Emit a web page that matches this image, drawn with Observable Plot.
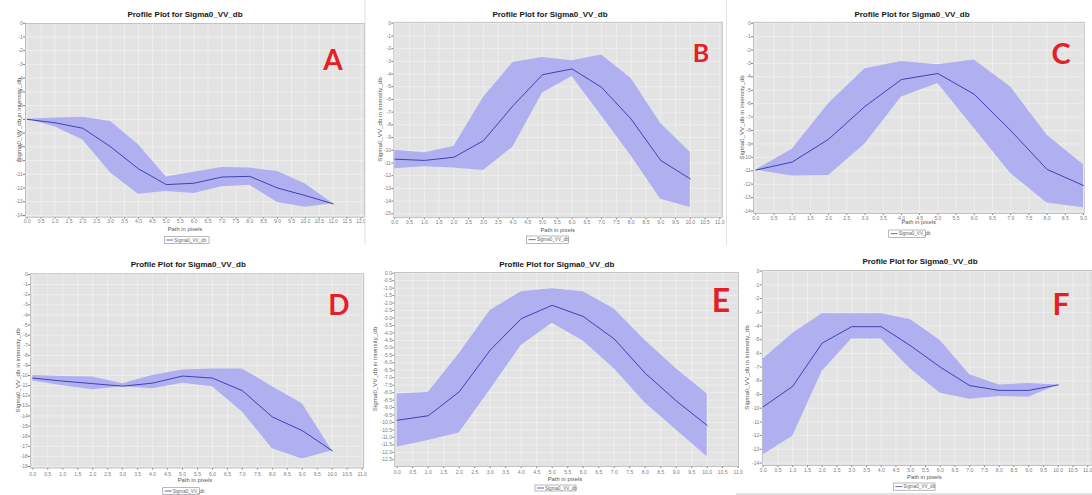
<!DOCTYPE html>
<html><head><meta charset="utf-8">
<script src="https://cdn.jsdelivr.net/npm/d3@7"></script>
<script src="https://cdn.jsdelivr.net/npm/@observablehq/plot@0.6"></script>
<style>
body{margin:0;background:#fff;}
#wrap{position:relative;width:1092px;height:495px;overflow:hidden;background:#fff;}
#wrap svg{position:absolute;}
</style></head><body><div id="wrap"></div>
<script>
// ---- text ----
const chartTitle = "Profile Plot for Sigma0_VV_db";
const xLabel = "Path in pixels";
const yLabel = "Sigma0_VV_db in intensity_db";
const legendLabel = "Sigma0_VV_db";

// ---- data (path position, mean, upper and lower envelope) ----
const aPath  = [0,1,2,3,4,5,6,7,8,9,10,11];
const aMean  = [-7.0,-7.25,-7.65,-9.0,-10.6,-11.75,-11.65,-11.2,-11.15,-12.0,-12.55,-13.15];
const aUpper = [-7.0,-6.9,-6.85,-7.15,-8.85,-11.2,-10.85,-10.5,-10.55,-10.8,-11.7,-13.15];
const aLower = [-7.0,-7.55,-8.5,-10.9,-12.45,-12.25,-12.4,-11.9,-11.8,-13.05,-13.4,-13.15];

const bPath  = [0,1,2,3,4,5,6,7,8,9,10];
const bMean  = [-10.7,-10.8,-10.55,-9.25,-6.5,-4.05,-3.6,-5.05,-7.55,-10.8,-12.25];
const bUpper = [-10.0,-10.2,-9.7,-5.85,-3.1,-2.7,-2.95,-2.5,-4.35,-7.9,-10.15];
const bLower = [-11.45,-11.3,-11.4,-11.6,-9.75,-5.5,-4.2,-7.3,-10.45,-13.85,-14.5];

const cPath  = [0,1,2,3,4,5,6,7,8,9];
const cMean  = [-10.95,-10.35,-8.65,-6.2,-4.2,-3.75,-5.3,-8.0,-10.9,-12.1];
const cUpper = [-10.95,-9.4,-6.0,-3.4,-2.85,-3.1,-2.75,-4.75,-8.35,-10.55];
const cLower = [-10.95,-11.4,-11.35,-9.0,-5.5,-4.5,-7.85,-11.2,-13.4,-13.75];

const dPath  = [0,1,2,3,4,5,6,7,8,9,10];
const dMean  = [-10.25,-10.55,-10.8,-11.05,-10.75,-10.05,-10.25,-11.5,-14.1,-15.45,-17.45];
const dUpper = [-10.0,-10.1,-10.15,-10.8,-10.0,-9.45,-9.35,-9.35,-11.1,-12.8,-17.45];
const dLower = [-10.55,-11.0,-11.4,-11.1,-11.3,-10.75,-11.1,-13.6,-17.25,-18.25,-17.45];

const ePath  = [0,1,2,3,4,5,6,7,8,9,10];
const eMean  = [-9.85,-9.55,-7.95,-5.15,-3.05,-2.15,-2.9,-4.4,-6.7,-8.55,-10.2];
const eUpper = [-8.1,-8.0,-5.4,-2.5,-1.25,-1.05,-1.25,-2.4,-4.5,-6.4,-8.1];
const eLower = [-11.65,-11.2,-10.7,-7.8,-4.85,-3.35,-4.55,-6.4,-8.7,-10.5,-12.3];

const fPath  = [0,1,2,3,4,5,6,7,8,9,10];
const fMean  = [-9.9,-8.4,-5.25,-4.05,-4.05,-5.45,-7.0,-8.35,-8.7,-8.7,-8.3];
const fUpper = [-6.4,-4.55,-3.1,-3.1,-3.1,-3.55,-5.05,-7.55,-8.3,-8.2,-8.3];
const fLower = [-13.4,-12.05,-7.3,-4.95,-4.95,-7.15,-8.9,-9.35,-9.15,-9.2,-8.3];

// ---- tick values ----
const tickRange = (lo, hi, step) => d3.range(lo, hi + step / 2, step).map(v => Math.round(v * 10) / 10);
const xTicks12 = tickRange(0, 12, 0.5);
const xTicks11 = tickRange(0, 11, 0.5);
const xTicks9  = tickRange(0, 9, 0.5);
const yTicks14 = tickRange(-14, 0, 1);
const yTicks15 = tickRange(-15, 0, 1);
const yTicks19 = tickRange(-19, 0, 1);
const yTicks125 = tickRange(-12.5, 0, 0.5);

// ---- layout (panel-local pixels) ----
const panels = [
 {letter:"A", path:aPath, mean:aMean, upper:aUpper, lower:aLower, left:0, top:0, w:365, h:245,
  frame:[25,364,23,216.7], xDom:[0,12], xRange:[26.7,360.5], yDom:[-14,0], yRange:[215,22.7],
  xTicks:xTicks12, yTicks:yTicks14, yDec:0, title:[185,15], let:[333,60,28], xl:[185,229], ylx:19.3,
  legend:[164.3,236.7,44.7,6.6], pad:0.5},
 {letter:"B", path:bPath, mean:bMean, upper:bUpper, lower:bLower, left:365, top:0, w:365, h:245,
  frame:[28.3,356.7,21.7,217.3], xDom:[0,11], xRange:[29.3,354.3], yDom:[-15,0], yRange:[213.3,22.7],
  xTicks:xTicks11, yTicks:yTicks15, yDec:0, title:[185,15], let:[336,53,25], xl:[192.7,230], ylx:15,
  legend:[161.7,236,41.6,7.3], pad:0.5},
 {letter:"C", path:cPath, mean:cMean, upper:cUpper, lower:cLower, left:727, top:0, w:365, h:245,
  frame:[26,356.7,21.7,213], xDom:[0,9], xRange:[28.3,356], yDom:[-14,0], yRange:[210.5,22.7],
  xTicks:xTicks9, yTicks:yTicks14, yDec:0, title:[185,15], let:[334,54,29], xl:[191.7,222], ylx:15,
  legend:[161.7,230,36.6,7.3], pad:0.5},
 {letter:"D", path:dPath, mean:dMean, upper:dUpper, lower:dLower, left:0, top:250, w:369, h:245,
  frame:[30,363.3,23.3,217.5], xDom:[0,11], xRange:[32.3,361.7], yDom:[-19,0], yRange:[216,24],
  xTicks:xTicks11, yTicks:yTicks19, yDec:0, title:[188.3,15], let:[339,55,28], xl:[195,230], ylx:18.3,
  legend:[162.7,237.7,36.6,6.6], pad:2},
 {letter:"E", path:ePath, mean:eMean, upper:eUpper, lower:eLower, left:365, top:250, w:380, h:245,
  frame:[29.3,373,22,216], xDom:[0,11], xRange:[31.7,372.7], yDom:[-12.5,0], yRange:[209.3,22.7],
  xTicks:xTicks11, yTicks:yTicks125, yDec:1, title:[191.7,15], let:[356,50,32], xl:[200,229.3], ylx:10,
  legend:[170,235,41,6], pad:1.5},
 {letter:"F", path:fPath, mean:fMean, upper:fUpper, lower:fLower, left:730, top:250, w:362, h:245,
  frame:[31.7,361.7,20,215], xDom:[0,11], xRange:[32.7,357.2], yDom:[-14,0], yRange:[212.5,20.7],
  xTicks:xTicks11, yTicks:yTicks14, yDec:0, title:[190,11.7], let:[331,54,30], xl:[194.3,227], ylx:17.3,
  legend:[163.3,233,41.7,7.2], pad:1}
];

const wrap = document.getElementById("wrap");
const FONT = "'Liberation Sans', Arial, 'DejaVu Sans', sans-serif";
const fmtTick = (d, dec) => dec ? d.toFixed(dec) : String(d);

for (const p of panels) {
  const rows = p.path.map((x, i) => ({x, mean: p.mean[i], hi: p.upper[i], lo: p.lower[i]}));
  const [fl, fr, ft, fb] = p.frame;
  const svg = Plot.plot({
    width: p.w, height: p.h,
    marginLeft: fl, marginRight: p.w - fr, marginTop: ft, marginBottom: p.h - fb,
    style: {background: "transparent", fontFamily: FONT, fontSize: "5px", color: "#7c7c7c"},
    x: {domain: p.xDom, range: p.xRange, ticks: p.xTicks, tickFormat: d => d.toFixed(1), tickSize: 2, tickPadding: p.pad, label: null},
    y: {domain: p.yDom, range: p.yRange, ticks: p.yTicks, tickFormat: d => fmtTick(d, p.yDec), tickSize: 2, tickPadding: 0.8, label: null},
    marks: [
      Plot.frame({fill: "#e3e3e3"}),
      Plot.ruleX(p.xTicks, {stroke: "#ffffff", strokeOpacity: 0.75, strokeWidth: 0.5}),
      Plot.ruleY(p.yTicks, {stroke: "#ffffff", strokeOpacity: 0.75, strokeWidth: 0.5}),
      Plot.areaY(rows, {x: "x", y1: "lo", y2: "hi", fill: "#b0b0f0"}),
      Plot.lineY(rows, {x: "x", y: "mean", stroke: "#4040b4", strokeWidth: 1}),
      Plot.frame({stroke: "#a4a4a4", strokeWidth: 0.6})
    ]
  });
  svg.style.left = p.left + "px";
  svg.style.top = p.top + "px";
  const s = d3.select(svg);
  // title
  s.append("text").attr("x", p.title[0]).attr("y", p.title[1] + 2.4)
    .attr("text-anchor", "middle").attr("font-family", FONT).attr("font-size", 8)
    .attr("font-weight", "bold").attr("fill", "#161616").text(chartTitle);
  // x label
  s.append("text").attr("x", p.xl[0]).attr("y", p.xl[1] + 1.6)
    .attr("text-anchor", "middle").attr("font-family", FONT).attr("font-size", 5.8)
    .attr("fill", "#555").text(xLabel);
  // y label
  s.append("text").attr("transform", `translate(${p.ylx},${(ft + fb) / 2}) rotate(-90)`)
    .attr("dy", "0.35em").attr("text-anchor", "middle").attr("font-family", FONT)
    .attr("font-size", 6.2).attr("fill", "#555").text(yLabel);
  // red panel letter
  s.append("text").attr("x", p.let[0]).attr("y", p.let[1] + 0.36 * p.let[2])
    .attr("text-anchor", "middle").attr("font-family", "Lato, 'Open Sans', 'Liberation Sans', sans-serif")
    .attr("font-weight", "bold").attr("font-size", p.let[2]).attr("fill", "#e61e25").text(p.letter);
  // legend box
  const [lx, ly, lw, lh] = p.legend;
  s.append("rect").attr("x", lx).attr("y", ly).attr("width", lw).attr("height", lh)
    .attr("fill", "#fff").attr("stroke", "#8a8a8a").attr("stroke-width", 0.6);
  s.append("line").attr("x1", lx + 2).attr("x2", lx + 9).attr("y1", ly + lh / 2).attr("y2", ly + lh / 2)
    .attr("stroke", "#4040b4").attr("stroke-width", 0.8);
  s.append("text").attr("x", lx + 10).attr("y", ly + lh / 2 + 1.6).attr("text-anchor", "start")
    .attr("font-family", FONT).attr("font-size", 4.6).attr("fill", "#666").text(legendLabel);
  wrap.appendChild(svg);
}

// faint borders of the pasted screenshots
const deco = d3.select(wrap).append("svg").attr("width", 1092).attr("height", 495)
  .style("left", "0px").style("top", "0px").style("pointer-events", "none");
deco.append("line").attr("x1", 365).attr("x2", 365).attr("y1", 0).attr("y2", 245).attr("stroke", "#dadada").attr("stroke-width", 0.8);
deco.append("line").attr("x1", 726.5).attr("x2", 726.5).attr("y1", 0).attr("y2", 245).attr("stroke", "#dadada").attr("stroke-width", 0.8);
deco.append("line").attr("x1", 736).attr("x2", 1092).attr("y1", 494).attr("y2", 494).attr("stroke", "#c4c4c4").attr("stroke-width", 1);
</script></body></html>
